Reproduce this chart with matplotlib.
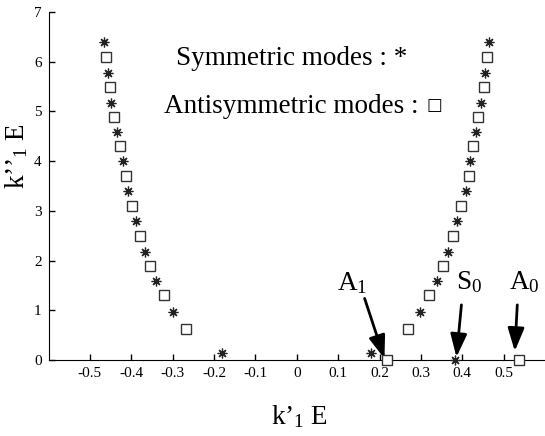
import numpy as np
import matplotlib
matplotlib.use("Agg")
import matplotlib.pyplot as plt

plt.rcParams['font.family'] = ['Liberation Serif', 'DejaVu Sans']
plt.rcParams['mathtext.fontset'] = 'custom'
plt.rcParams['mathtext.rm'] = 'Liberation Serif'
plt.rcParams['mathtext.it'] = 'Liberation Serif:italic'

# symmetric modes (*)
sym_y = [6.39, 5.77, 5.17, 4.58, 4.00, 3.39, 2.79, 2.18, 1.59, 0.96, 0.14]
sym_x_left = [-0.467, -0.457, -0.448, -0.435, -0.421, -0.408, -0.389, -0.367, -0.339, -0.298, -0.180]
sym_x_right = [0.464, 0.456, 0.445, 0.433, 0.418, 0.408, 0.388, 0.366, 0.338, 0.297, 0.180]

# antisymmetric modes (squares)
anti_y = [6.09, 5.48, 4.89, 4.31, 3.71, 3.09, 2.50, 1.90, 1.30, 0.62]
anti_x_left = [-0.460, -0.452, -0.441, -0.427, -0.413, -0.397, -0.378, -0.354, -0.320, -0.268]
anti_x_right = [0.459, 0.452, 0.439, 0.427, 0.416, 0.397, 0.377, 0.353, 0.320, 0.268]

# propagating modes on the real axis
real_sym_x = [0.382]
real_anti_x = [0.217, 0.537]
real_sym_y = [0.0]
real_anti_y = [0.0, 0.0]

# labelled modes: name, text position, arrow tail, arrow tip
mode_names = [r'A$_1$', r'S$_0$', r'A$_0$']
mode_text_x = [0.098, 0.386, 0.512]
mode_text_y = [1.41, 1.42, 1.42]
arrow_tail = [(0.164, 1.24), (0.398, 1.11), (0.533, 1.11)]
arrow_tip = [(0.212, 0.03), (0.386, 0.06), (0.527, 0.18)]

xticks = np.arange(-0.5, 0.51, 0.1)
xticklabels = ['-0.5', '-0.4', '-0.3', '-0.2', '-0.1', '0', '0.1', '0.2', '0.3', '0.4', '0.5']
yticks = range(0, 8)

fig = plt.figure(figsize=(5.45, 4.36), dpi=100)
ax = fig.add_axes([0.089, 0.174, 0.911, 0.799])

star = (8, 2, 0)
sq = dict(marker='s', ms=7.5, mfc='white', mec='#333333', mew=1.0, ls='none', clip_on=False)
st = dict(marker=star, ms=7, color='#222222', mew=0.9, ls='none', clip_on=False)

ax.plot(sym_x_left, sym_y, **st)
ax.plot(sym_x_right, sym_y, **st)
ax.plot(anti_x_left, anti_y, **sq)
ax.plot(anti_x_right, anti_y, **sq)
ax.plot(real_sym_x, real_sym_y, zorder=5, **st)
ax.plot(real_anti_x, real_anti_y, zorder=5, **sq)

for name, tx, ty, tail, tip in zip(mode_names, mode_text_x, mode_text_y, arrow_tail, arrow_tip):
    ax.text(tx, ty, name, fontsize=19.5, ha='left', va='baseline')
    ax.annotate('', xy=tip, xytext=tail,
                arrowprops=dict(arrowstyle='-|>,head_length=0.7,head_width=0.25',
                                mutation_scale=20, lw=2, color='k',
                                shrinkA=0, shrinkB=0))

ax.text(-0.291, 5.94, 'Symmetric modes : *', fontsize=19.5, ha='left', va='baseline')
anti_txt = ax.text(-0.322, 4.96, 'Antisymmetric modes :', fontsize=19.5, ha='left', va='baseline')
# small bold square after the legend text
ax.annotate('\u25a1', xy=(1, 0), xycoords=anti_txt, xytext=(6, 6.5), textcoords='offset points',
            fontsize=12, fontweight='bold', family='DejaVu Sans', ha='left', va='baseline')

ax.set_xlim(-0.6, 0.6)
ax.set_ylim(0, 7)
ax.set_xticks(xticks)
ax.set_xticklabels(xticklabels)
ax.set_yticks(yticks)
ax.tick_params(direction='in', length=4.5, width=1, labelsize=11, pad=5)
ax.spines['top'].set_visible(False)
ax.spines['right'].set_visible(False)

fig.text(0.55, 0.0275, 'k\u2019$_1$ E', fontsize=19.5, ha='center', va='baseline')
fig.text(0.031, 0.643, 'k\u2019\u2019$_1$ E', fontsize=19.5, ha='center', va='center', rotation=90)

fig.savefig('out.png', dpi=100)
